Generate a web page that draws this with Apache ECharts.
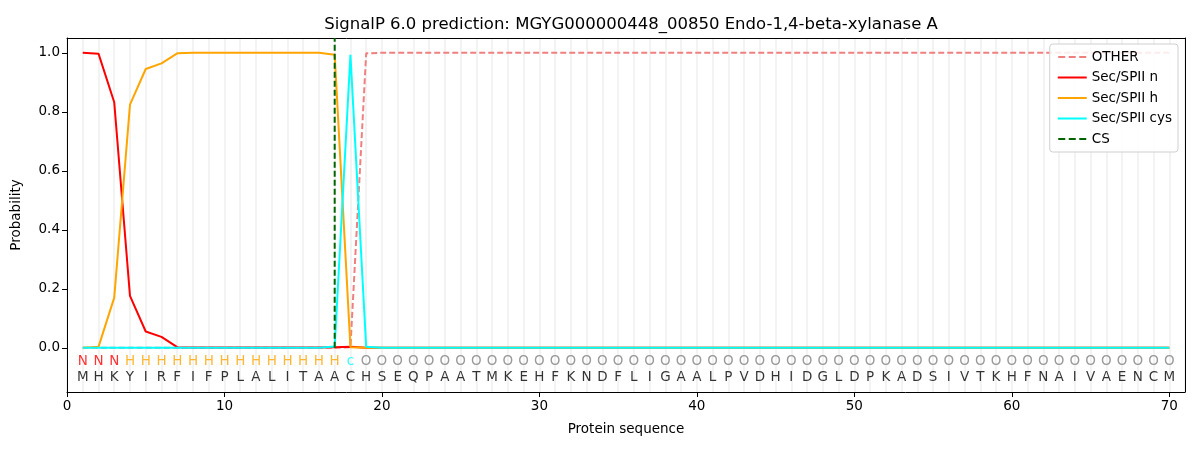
<!DOCTYPE html>
<html>
<head>
<meta charset="utf-8">
<script src="https://cdn.jsdelivr.net/npm/echarts@6/dist/echarts.min.js"></script>
<style>
html,body{margin:0;padding:0;background:#fff;}
#chart{width:1200px;height:450px;}
</style>
</head>
<body>
<div id="chart"></div>
<script>
const titleText = "SignalP 6.0 prediction: MGYG000000448_00850 Endo-1,4-beta-xylanase A";
const residues = "MHKYIRFIFPLALITAACHSEQPAATMKEHFKNDFLIGAALPVDHIDGLDPKADSIVTKHFNAIVAENCM".split("");
const regionLabels = ["N","N","N","H","H","H","H","H","H","H","H","H","H","H","H","H","H","c"].concat(Array(52).fill("O"));
const regionColors = {N:"#ff0000", H:"#ffa500", c:"#00ffff", O:"#808080"};
// per-residue probabilities (positions 1..70)
const otherVals = [0,0,0,0,0,0,0,0,0,0,0,0,0,0,0,0,0,0.002,0.998].concat(Array(51).fill(1.0));
const nVals = [1.0,0.997,0.832,0.176,0.055,0.037,0.002,0.001,0.001,0.001,0.001,0.001,0.001,0.001,0.001,0.001,0.002,0.003].concat(Array(52).fill(0));
const hVals = [0.0,0.003,0.17,0.824,0.945,0.964,0.998,1.0,1.0,1.0,1.0,1.0,1.0,1.0,1.0,1.0,0.993,0.002,0.0].concat(Array(51).fill(0));
const cysVals = [0,0,0,0,0,0,0,0,0,0,0,0,0,0,0,0,0.004,0.993,0.003].concat(Array(51).fill(0));
const csPosition = 17;
const xTicks = [0,10,20,30,40,50,60,70];
const yTicks = [0,0.2,0.4,0.6,0.8,1.0];

const pos = residues.map((_, i) => i + 1);
const toPts = arr => arr.map((v, i) => [i + 1, v]);
const font = "DejaVu Sans";
const solidIcon = 'rect';
const dashIcon = 'path://M0,0h7v2h-7zM10.5,0h7v2h-7zM21,0h7v2h-7z';

const chart = echarts.init(document.getElementById('chart'), null, {renderer:'canvas'});
chart.setOption({
  animation:false,
  backgroundColor:'#fff',
  textStyle:{fontFamily:font},
  title:{text:titleText, left:626, textAlign:'center', top:11,
    textStyle:{fontFamily:font, fontSize:16.5, fontWeight:'normal', color:'#000'}},
  grid:{left:67, right:15, top:38, bottom:58, show:false},
  legend:{
    orient:'vertical', right:22, top:44, itemWidth:29, itemHeight:2, itemGap:6.5,
    padding:[6,6,6,8], borderColor:'#d0d0d0', borderWidth:1, borderRadius:3, backgroundColor:'rgba(255,255,255,0.85)',
    textStyle:{fontFamily:font, fontSize:13.5, color:'#000', padding:[3,0,3,0]},
    data:[
      {name:'OTHER', icon:dashIcon, itemStyle:{color:'#f08080', opacity:1}},
      {name:'Sec/SPII n', icon:solidIcon},
      {name:'Sec/SPII h', icon:solidIcon},
      {name:'Sec/SPII cys', icon:solidIcon},
      {name:'CS', icon:dashIcon, itemStyle:{color:'#006400', opacity:1}}
    ]
  },
  xAxis:[{
    type:'value', min:0, max:71, name:'Protein sequence', nameLocation:'middle', nameGap:30, z:5,
    nameTextStyle:{fontFamily:font, fontSize:13.5, color:'#000'},
    axisLine:{onZero:false, lineStyle:{color:'#000'}},
    axisTick:{customValues:xTicks, length:5, lineStyle:{color:'#000'}},
    axisLabel:{customValues:xTicks, fontFamily:font, fontSize:13.5, color:'#000', margin:7},
    splitLine:{show:false}
  },{
    type:'value', min:0, max:71, interval:1, position:'bottom', z:0,
    axisLine:{show:false, onZero:false}, axisTick:{show:false}, axisLabel:{show:false},
    splitLine:{show:true, lineStyle:{color:'#f3f3f3', width:2}}
  },{
    type:'value', min:0, max:71, position:'top', z:5,
    axisLine:{show:true, onZero:false, lineStyle:{color:'#000'}}, axisTick:{show:false}, axisLabel:{show:false},
    splitLine:{show:false}
  }],
  yAxis:[{
    type:'value', min:-0.15, max:1.05, name:'Probability', nameLocation:'middle', nameGap:44, z:5,
    nameTextStyle:{fontFamily:font, fontSize:13.5, color:'#000'},
    axisLine:{show:true, onZero:false, lineStyle:{color:'#000'}},
    axisTick:{show:true, customValues:yTicks, length:5, lineStyle:{color:'#000'}},
    axisLabel:{customValues:yTicks, fontFamily:font, fontSize:13.5, color:'#000', margin:7,
      formatter:v => v.toFixed(1)},
    splitLine:{show:false}
  },{
    type:'value', min:-0.15, max:1.05, position:'right', z:5,
    axisLine:{show:true, onZero:false, lineStyle:{color:'#000'}}, axisTick:{show:false}, axisLabel:{show:false},
    splitLine:{show:false}
  }],
  series:[
    {name:'OTHER', type:'line', data:toPts(otherVals), symbol:'none', z:3,
      lineStyle:{color:'#f08080', width:2, type:[6,3]}, itemStyle:{color:'#f08080'}},
    {name:'Sec/SPII n', type:'line', data:toPts(nVals), symbol:'none', z:4,
      lineStyle:{color:'#ff0000', width:2}, itemStyle:{color:'#ff0000'}},
    {name:'Sec/SPII h', type:'line', data:toPts(hVals), symbol:'none', z:5,
      lineStyle:{color:'#ffa500', width:2}, itemStyle:{color:'#ffa500'}},
    {name:'Sec/SPII cys', type:'line', data:toPts(cysVals), symbol:'none', z:6,
      lineStyle:{color:'#00ffff', width:2}, itemStyle:{color:'#00ffff'}},
    {name:'CS', type:'line', data:[[csPosition,0],[csPosition,1.05]], symbol:'none', z:7,
      lineStyle:{color:'#006400', width:2, type:[6,3]}, itemStyle:{color:'#006400'}},
    {name:'labels', type:'scatter', symbolSize:0, z:8, silent:true,
      data:pos.map((p,i)=>({value:[p,-0.047], label:{color:regionColors[regionLabels[i]]}})),
      label:{show:true, position:'inside', fontFamily:font, fontSize:13.5,
        formatter:p => regionLabels[p.dataIndex]}},
    {name:'residues', type:'scatter', symbolSize:0, z:8, silent:true,
      data:pos.map(p=>[p,-0.1]),
      label:{show:true, position:'inside', fontFamily:font, fontSize:13.5, color:'#000',
        formatter:p => residues[p.dataIndex]}}
  ]
});
</script>
</body>
</html>
